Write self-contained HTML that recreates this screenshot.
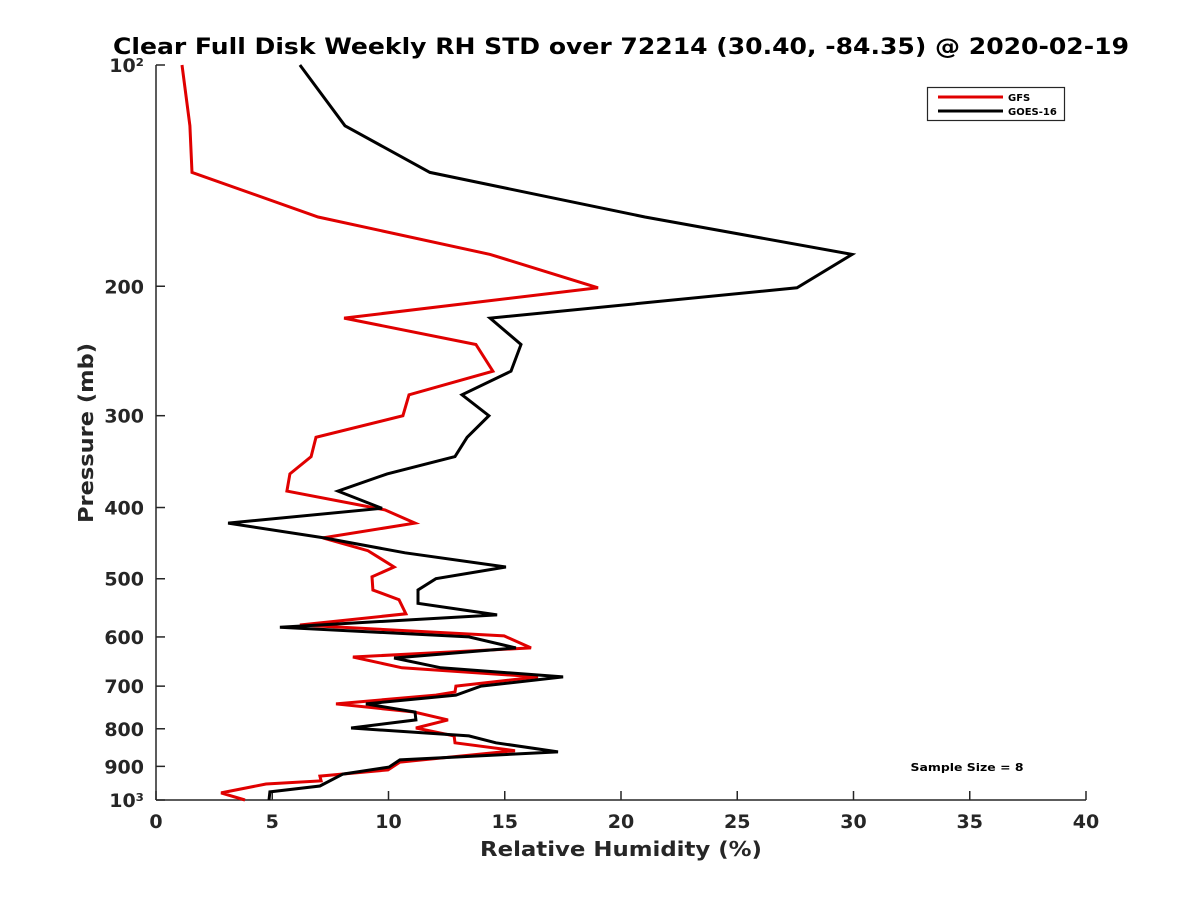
<!DOCTYPE html>
<html><head><meta charset="utf-8"><style>
body{margin:0;background:#fff;}
svg{display:block;font-family:"DejaVu Sans","Liberation Sans",sans-serif;}
</style></head><body>
<svg id="chart" width="1200" height="900" xmlns="http://www.w3.org/2000/svg">
<rect width="1200" height="900" fill="#fff"/>
<text x="621" y="54" text-anchor="middle" font-size="22" font-weight="bold" fill="#000" textLength="1016" lengthAdjust="spacingAndGlyphs">Clear Full Disk Weekly RH STD over 72214 (30.40, -84.35) @ 2020-02-19</text>
<g id="axes"></g>
<g id="series"></g>
<text x="621" y="856" text-anchor="middle" font-size="20" font-weight="bold" fill="#262626" textLength="282" lengthAdjust="spacingAndGlyphs">Relative Humidity (%)</text>
<text transform="translate(93,433) rotate(-90)" text-anchor="middle" font-size="20" font-weight="bold" fill="#262626" textLength="180" lengthAdjust="spacingAndGlyphs">Pressure (mb)</text>
<g>
<rect x="927.5" y="87.5" width="137" height="33" fill="#fff" stroke="#262626" stroke-width="1.2"/>
<line x1="938" y1="97" x2="1003" y2="97" stroke="#e00000" stroke-width="3"/>
<text x="1008" y="101" font-size="10" font-weight="bold">GFS</text>
<line x1="938" y1="111" x2="1003" y2="111" stroke="#000" stroke-width="3"/>
<text x="1008" y="115" font-size="10" font-weight="bold">GOES-16</text>
</g>
<text x="967" y="771" text-anchor="middle" font-size="11" font-weight="bold" textLength="113" lengthAdjust="spacingAndGlyphs">Sample Size = 8</text>
</svg>
<script>
const xTicks=[0,5,10,15,20,25,30,35,40];
const yTicks=[100,200,300,400,500,600,700,800,900,1000];
const yTickLabels=["10²","200","300","400","500","600","700","800","900","10³"];
const gfsP=[100,121,140,161,181,201,221,240,261,281,300,321,341,360,380,403,420,440,458,482,497,518,534,558,578,598,621,639,661,680,700,713,720,740,759,778,798,818,836,857,888,910,928,942,951,978,1000];
const gfsRH=[1.12,1.46,1.55,6.97,14.37,19.01,8.09,13.76,14.49,10.88,10.62,6.88,6.67,5.76,5.63,9.85,11.14,7.18,9.12,10.24,9.29,9.33,10.45,10.75,6.19,14.97,16.13,8.47,10.58,16.43,12.9,12.86,12.04,7.74,11.1,12.56,11.18,12.82,12.86,15.44,10.49,9.98,7.05,7.1,4.73,2.8,3.83];
const goesP=[100,121,140,161,181,201,221,240,261,281,300,321,341,360,380,401,420,440,461,482,500,518,540,560,582,600,621,641,661,680,700,720,740,759,778,798,818,836,860,882,902,922,957,975,1000];
const goesRH=[6.19,8.13,11.78,21.03,29.94,27.57,14.37,15.7,15.27,13.16,14.32,13.38,12.86,9.94,7.83,9.72,3.1,7.23,10.71,15.05,12.04,11.27,11.27,14.67,5.33,13.46,15.48,10.24,12.26,17.51,13.98,12.9,9.03,11.14,11.18,8.39,13.46,14.62,17.29,10.49,10.02,8.04,7.05,4.9,4.86];
const L=156,R=1086,T=65,B=800;
const xs=v=>L+(v-0)/40*(R-L);
const ys=p=>T+Math.log10(p/100)*(B-T);
const NS="http://www.w3.org/2000/svg";
function mk(tag,attrs,parent){const e=document.createElementNS(NS,tag);for(const k in attrs)e.setAttribute(k,attrs[k]);parent.appendChild(e);return e;}
const ax=document.getElementById('axes');
let a=mk('line',{x1:L,y1:B,x2:R,y2:B,stroke:'#262626','stroke-width':1.5},ax);


a=mk('line',{x1:L,y1:T,x2:L,y2:B,stroke:'#262626','stroke-width':1.5},ax);


xTicks.forEach(v=>{
  const x=xs(v);
  const t=mk('line',{x1:x,y1:B,x2:x,y2:B-9,stroke:'#262626','stroke-width':1.5},ax);
  
  
  const tx=mk('text',{x:x,y:B+28,'text-anchor':'middle','font-size':19,'font-weight':'bold',fill:'#262626'},ax);
  tx.textContent=v;
  
  
});
yTicks.forEach((p,i)=>{
  const y=ys(p);
  const t=mk('line',{x1:L,y1:y,x2:L+9,y2:y,stroke:'#262626','stroke-width':1.5},ax);
  
  
  const tx=mk('text',{x:L-12,y:y+7,'text-anchor':'end','font-size':19,'font-weight':'bold',fill:'#262626'},ax);
  tx.textContent=yTickLabels[i];
  
  
});
const sg=document.getElementById('series');
function line(P,V,color,name){
  const d=P.map((p,i)=>(i?'L':'M')+xs(V[i]).toFixed(1)+','+ys(p).toFixed(1)).join('');
  const e=mk('path',{d:d,fill:'none',stroke:color,'stroke-width':3,'stroke-linejoin':'miter'},sg);
  
  
}
line(gfsP,gfsRH,'#e00000','gfs-line');
line(goesP,goesRH,'#000000','goes16-line');
</script>
</body></html>
